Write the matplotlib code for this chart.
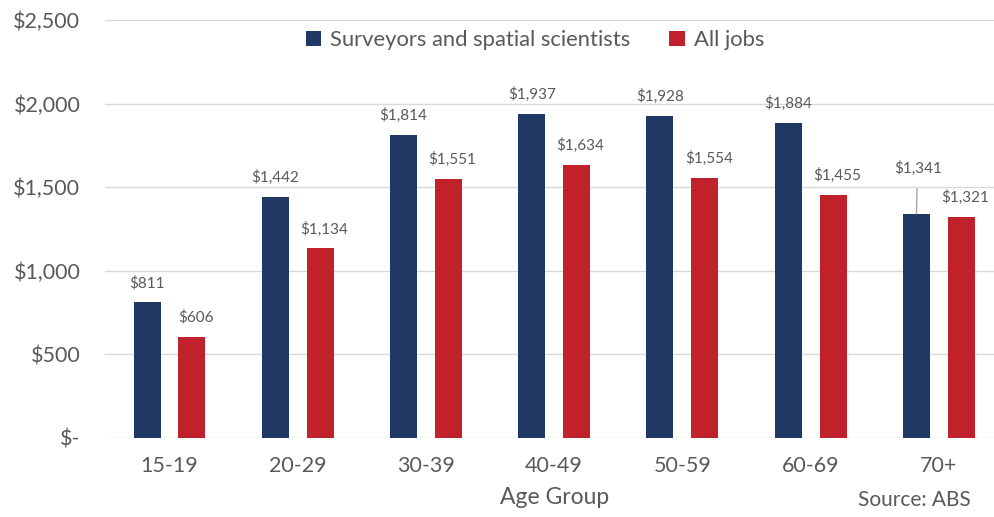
import matplotlib.pyplot as plt
import numpy as np

# data
age_groups = ['15-19', '20-29', '30-39', '40-49', '50-59', '60-69', '70+']
surveyors = [811, 1442, 1814, 1937, 1928, 1884, 1341]
all_jobs = [606, 1134, 1551, 1634, 1554, 1455, 1321]
y_ticks = [0, 500, 1000, 1500, 2000, 2500]
y_tick_labels = ['$-', '$500', '$1,000', '$1,500', '$2,000', '$2,500']

navy = '#1f3864'
red = '#c0212a'
grey_text = '#595959'

plt.rcParams['font.family'] = ['Lato', 'DejaVu Sans']

fig = plt.figure(figsize=(9.94, 5.17), dpi=100)
ax = fig.add_axes([0.106, 0.153, 0.903, 0.808])

x = np.arange(len(age_groups))
w = 0.21
off = 0.175
b1 = ax.bar(x - off, surveyors, w, color=navy, label='Surveyors and spatial scientists', zorder=3)
b2 = ax.bar(x + off, all_jobs, w, color=red, label='All jobs', zorder=3)

# value labels
for i, v in enumerate(surveyors):
    if age_groups[i] == '70+':
        # this one sits higher with a leader line
        ax.annotate('${:,}'.format(v), xy=(x[i] - off, v), xytext=(x[i] - off + 0.01, v + 270),
                    ha='center', va='center', fontsize=11, color=grey_text,
                    arrowprops=dict(arrowstyle='-', color='#a6a6a6', lw=1, shrinkA=7, shrinkB=0))
    else:
        ax.annotate('${:,}'.format(v), xy=(x[i] - off, v), xytext=(0, 14), textcoords='offset points',
                    ha='center', va='center', fontsize=11, color=grey_text)
for i, v in enumerate(all_jobs):
    ax.annotate('${:,}'.format(v), xy=(x[i] + off + 0.03, v), xytext=(0, 14), textcoords='offset points',
                ha='center', va='center', fontsize=11, color=grey_text)

ax.set_xlim(-0.5, len(age_groups) - 0.5)
ax.set_ylim(0, 2500)
ax.set_yticks(y_ticks)
ax.set_yticklabels(y_tick_labels)
ax.set_xticks(x)
ax.set_xticklabels(age_groups)
ax.tick_params(axis='both', length=0, labelsize=15.5, colors=grey_text)
ax.tick_params(axis='y', pad=18)
ax.tick_params(axis='x', pad=13)
ax.grid(axis='y', color='#d9d9d9', lw=1, zorder=0)
for s in ax.spines.values():
    s.set_visible(False)

ax.set_xlabel('Age Group', fontsize=16.5, color=grey_text, labelpad=8)

fig.legend(handles=[b1, b2], loc='center', bbox_to_anchor=(0.538, 0.922), ncol=2, frameon=False,
           fontsize=15.8, labelcolor=grey_text, handlelength=0.7, handleheight=0.7,
           handletextpad=0.4, columnspacing=1.8)

fig.text(0.977, 0.033, 'Source: ABS', ha='right', va='center', fontsize=15, color=grey_text)

plt.savefig('out.png', dpi=100)
